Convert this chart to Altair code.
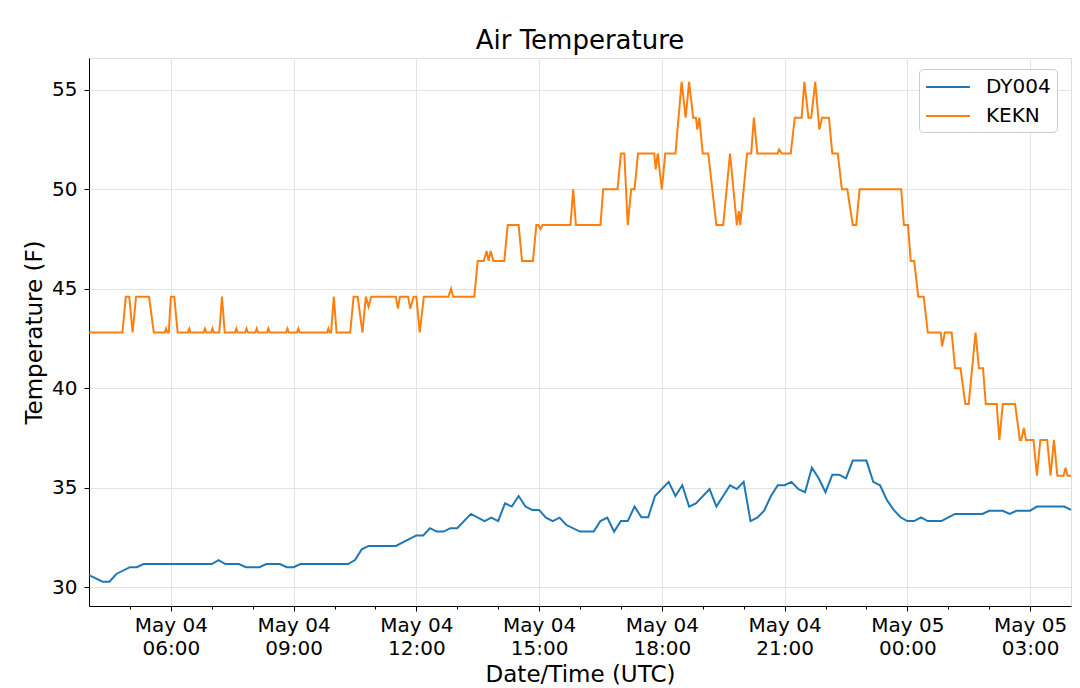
import altair as alt
import pandas as pd

# ---- data (minutes after 2019-05-04 04:00 UTC, temperature in F) ----
DY004_MIN = [0, 20, 30, 40, 60, 70, 80, 180, 190, 200, 220, 230, 250, 260, 280, 290, 300, 310,
             380, 390, 400, 410, 450, 480, 490, 500, 510, 520, 530, 540,
             560, 580, 590, 600, 610, 620, 630, 640, 650, 660, 670, 680, 690, 700,
             720, 740, 750, 760, 770, 780, 790, 800, 810, 820, 830, 850, 860, 870, 880, 890,
             910, 920, 940, 950, 960, 970, 980, 990, 1000, 1010, 1020, 1030, 1040, 1050, 1060, 1070, 1080, 1090, 1100, 1110, 1120,
             1140, 1150, 1160, 1170, 1180, 1190, 1200, 1210, 1220, 1230, 1250, 1260, 1270,
             1310, 1320, 1340, 1350, 1360, 1380, 1390, 1430, 1440]
DY004_F = [30.6, 30.27, 30.27, 30.66, 31.0, 31.0, 31.16, 31.16, 31.35, 31.16, 31.16, 31.0, 31.0, 31.16, 31.16, 31.0, 31.0, 31.16,
           31.16, 31.36, 31.9, 32.07, 32.07, 32.6, 32.6, 32.96, 32.79, 32.79, 32.96, 32.96,
           33.68, 33.32, 33.49, 33.32, 34.21, 34.05, 34.58, 34.05, 33.88, 33.88, 33.49, 33.32, 33.49, 33.12,
           32.79, 32.79, 33.32, 33.49, 32.79, 33.32, 33.32, 34.05, 33.51, 33.51, 34.58, 35.29, 34.58, 35.12, 34.05, 34.21,
           34.93, 34.05, 35.12, 34.93, 35.29, 33.32, 33.49, 33.84, 34.58, 35.12, 35.12, 35.29, 34.93, 34.77, 36.0, 35.47, 34.77, 35.65, 35.65, 35.47, 36.36,
           36.36, 35.29, 35.12, 34.38, 33.88, 33.51, 33.32, 33.32, 33.51, 33.32, 33.32, 33.51, 33.68,
           33.68, 33.84, 33.84, 33.68, 33.84, 33.84, 34.05, 34.05, 33.88]

KEKN_MIN = [0, 49, 54, 59, 64, 69, 88, 95, 111, 113, 115, 117, 120, 125, 130,
            145, 147, 149, 168, 170, 172, 179, 181, 183, 191, 195, 199,
            214, 216, 218, 229, 231, 233, 244, 246, 248, 261, 263, 265, 289, 291, 293, 305, 307, 309, 349, 351, 353,
            355, 359, 363, 383, 388, 394, 401, 406, 410, 414, 450, 453, 456, 468, 471, 476, 480, 485, 491,
            527, 531, 534, 565, 570, 579, 583, 586, 589, 593, 609, 614, 630, 635, 651, 656, 659, 662, 665,
            706, 710, 714, 750, 754, 775, 780, 785, 790, 795, 800, 805, 829, 831, 834, 840, 845, 860,
            869, 875, 880, 886, 890, 892, 895, 900, 908, 920, 930, 940, 950, 953, 955, 965, 971, 975, 980,
            1010, 1012, 1016, 1029, 1035, 1045, 1049, 1055, 1059, 1065, 1071, 1075, 1085, 1090, 1098, 1104, 1112,
            1120, 1125, 1130, 1191, 1195, 1201, 1205, 1210, 1216, 1224, 1230, 1249, 1251, 1255, 1265, 1270, 1278,
            1285, 1290, 1300, 1305, 1311, 1315, 1331, 1335, 1340, 1358, 1365, 1367, 1371, 1374, 1385, 1390, 1395,
            1405, 1410, 1415, 1420, 1429, 1432, 1435, 1440]
KEKN_F = [42.8, 42.8, 44.6, 44.6, 42.8, 44.6, 44.6, 42.8, 42.8, 43.0, 42.8, 42.8, 44.6, 44.6, 42.8,
          42.8, 43.0, 42.8, 42.8, 43.0, 42.8, 42.8, 43.0, 42.8, 42.8, 44.6, 42.8,
          42.8, 43.0, 42.8, 42.8, 43.0, 42.8, 42.8, 43.0, 42.8, 42.8, 43.0, 42.8, 42.8, 43.0, 42.8, 42.8, 43.0, 42.8, 42.8, 43.0, 42.8,
          42.8, 44.6, 42.8, 42.8, 44.6, 44.6, 42.8, 44.6, 44.1, 44.6, 44.6, 44.0, 44.6, 44.6, 44.0, 44.6, 44.6, 42.8, 44.6,
          44.6, 45.0, 44.6, 44.6, 46.4, 46.4, 46.9, 46.4, 46.9, 46.4, 46.4, 48.2, 48.2, 46.4, 46.4, 48.2, 48.2, 48.0, 48.2,
          48.2, 50.0, 48.2, 48.2, 50.0, 50.0, 51.8, 51.8, 48.2, 50.0, 50.0, 51.8, 51.8, 51.0, 51.8, 50.0, 51.8, 51.8,
          55.4, 53.6, 55.4, 53.6, 53.6, 53.0, 53.6, 51.8, 51.8, 48.2, 48.2, 51.8, 48.2, 48.9, 48.2, 51.8, 51.8, 53.6, 51.8,
          51.8, 52.0, 51.8, 51.8, 53.6, 53.6, 55.4, 53.6, 53.6, 55.4, 53.0, 53.6, 53.6, 51.8, 51.8, 50.0, 50.0,
          48.2, 48.2, 50.0, 50.0, 48.2, 48.2, 46.4, 46.4, 44.6, 44.6, 42.8, 42.8, 42.1, 42.8, 42.8, 41.0, 41.0,
          39.2, 39.2, 42.8, 41.0, 41.0, 39.2, 39.2, 37.4, 39.2, 39.2, 37.4, 37.4, 38.0, 37.4, 37.4, 35.6, 37.4,
          37.4, 35.6, 37.4, 35.6, 35.6, 36.0, 35.6, 35.6]

STATIONS = ["DY004", "KEKN"]
COLORS = ["#1f77b4", "#ff7f0e"]
Y_TICKS = [30, 35, 40, 45, 50, 55]

START = pd.Timestamp("2019-05-04T04:00:00Z")
END = pd.Timestamp("2019-05-05T04:00:00Z")


def frame(name, mins, vals):
    t = [(START + pd.Timedelta(minutes=m)).strftime("%Y-%m-%dT%H:%M:%SZ") for m in mins]
    return pd.DataFrame({"time": t, "temp": vals, "station": name})


df = pd.concat([frame("DY004", DY004_MIN, DY004_F), frame("KEKN", KEKN_MIN, KEKN_F)],
               ignore_index=True)

ms = lambda ts: int(ts.value // 1_000_000)
hour_ticks = [ms(START + pd.Timedelta(hours=h)) for h in range(1, 24)]
major = "utchours(datum.value) % 3 == 0"

FONT = "DejaVu Sans"

x_axis = alt.Axis(
    values=hour_ticks,
    labelExpr=f"{major} ? [utcFormat(datum.value, '%b %d'), utcFormat(datum.value, '%H:%M')] : ''",
    labelOverlap=False, labelBound=False, labelFlush=False,
    labelFontSize=20, labelLineHeight=23.5, labelPadding=4, labelColor="#000000", labelFont=FONT,
    tickSize={"condition": {"test": major, "value": 5}, "value": 3},
    tickColor="#000000", tickWidth=1,
    gridColor={"condition": {"test": major, "value": "#e3e3e3"}, "value": "rgba(0,0,0,0)"},
    grid=True, domainColor="#000000",
    title="Date/Time (UTC)", titleFontSize=23, titleFont=FONT, titleFontWeight="normal",
    titleColor="#000000", titlePadding=5,
)

y_axis = alt.Axis(
    values=Y_TICKS, grid=True, gridColor="#e3e3e3",
    labelFontSize=20, labelPadding=7, labelColor="#000000", labelFont=FONT,
    tickSize=5, tickColor="#000000", domainColor="#000000",
    title="Temperature (F)", titleFontSize=23, titleFont=FONT, titleFontWeight="normal",
    titleColor="#000000", titlePadding=5,
)

legend = alt.Legend(
    title=None, orient="none", legendX=830, legendY=11,
    symbolType="M-1,0H3", symbolSize=484, symbolStrokeWidth=2,
    labelFontSize=20, labelFont=FONT, labelColor="#000000", labelOffset=37,
    rowPadding=7, padding=6, fillColor="rgba(255,255,255,0.85)", strokeColor="#cccccc",
    cornerRadius=4,
)

chart = alt.Chart(df).mark_line(strokeWidth=2).encode(
    x=alt.X("time:T", scale=alt.Scale(type="utc", domain=[ms(START), ms(END)], nice=False), axis=x_axis),
    y=alt.Y("temp:Q", scale=alt.Scale(domain=[29.05, 56.6], nice=False, zero=False), axis=y_axis),
    color=alt.Color("station:N", scale=alt.Scale(domain=STATIONS, range=COLORS), legend=legend),
).properties(
    width=982, height=548,
    title=alt.TitleParams("Air Temperature", fontSize=26, font=FONT, fontWeight="normal",
                          color="#000000", anchor="middle", offset=4),
    autosize=alt.AutoSizeParams(type="none"),
    padding={"left": 81, "top": 50, "right": 1, "bottom": 82},
).configure_view(stroke="#000000", strokeWidth=1).configure(background="white")

chart.save("out.html", embed_options={"renderer": "svg", "actions": False})
